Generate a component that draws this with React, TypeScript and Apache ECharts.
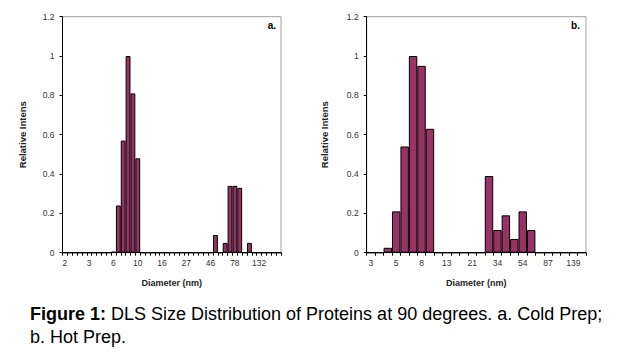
import React, { useEffect, useRef } from "react";
import * as echarts from "echarts";

// Panel a (Cold Prep): 45 size bins, tick labels every 5th bin
const aTickLabels = ["2", "3", "6", "10", "16", "27", "46", "78", "132"];
const aValues = [
  0, 0, 0, 0, 0, 0, 0, 0, 0, 0,
  0.005, 0.24, 0.57, 1.0, 0.81, 0.48, 0, 0, 0, 0,
  0, 0, 0, 0, 0, 0, 0, 0, 0, 0,
  0, 0.09, 0, 0.05, 0.34, 0.34, 0.33, 0, 0.05, 0,
  0, 0, 0, 0, 0,
];

// Panel b (Hot Prep): 26 size bins, tick labels every 3rd bin
const bTickLabels = ["3", "5", "8", "13", "21", "34", "54", "87", "139"];
const bValues = [
  0, 0, 0.025, 0.21, 0.54, 1.0, 0.95, 0.63, 0, 0,
  0, 0, 0, 0, 0.39, 0.115, 0.19, 0.07, 0.21, 0.115,
  0, 0, 0, 0, 0, 0,
];

const yTicks = { min: 0, max: 1.2, interval: 0.2 };

const FONT = "Liberation Sans, Arial, sans-serif";
const BAR = "#993366";

function xAxisFor(gridIndex: number, values: number[], labels: string[], step: number) {
  return {
    type: "category",
    gridIndex,
    data: values.map((_, i) => String(i)),
    boundaryGap: true,
    name: "Diameter (nm)",
    nameLocation: "middle",
    nameGap: 26,
    nameTextStyle: { fontFamily: FONT, fontSize: 9, fontWeight: "bold", color: "#222" },
    axisLine: { lineStyle: { color: "#000", width: 1 } },
    axisTick: { show: true, interval: 0, length: 3, lineStyle: { color: "#000" } },
    axisLabel: {
      interval: step - 1,
      margin: 6,
      fontFamily: FONT,
      fontSize: 8.5,
      color: "#333",
      formatter: (v: string) => {
        const i = Number(v);
        return i % step === 0 ? labels[i / step] ?? "" : "";
      },
    },
    splitLine: { show: false },
  };
}

function yAxisFor(gridIndex: number, gap: number) {
  return {
    type: "value",
    gridIndex,
    ...yTicks,
    name: "Relative Intens",
    nameLocation: "middle",
    nameRotate: 90,
    nameGap: gap,
    nameTextStyle: { fontFamily: FONT, fontSize: 9.5, fontWeight: "bold", color: "#222" },
    axisLine: { show: true, lineStyle: { color: "#000", width: 1 } },
    axisTick: { show: true, length: 3, lineStyle: { color: "#000" } },
    axisLabel: { margin: 8, fontFamily: FONT, fontSize: 8.5, color: "#333" },
    splitLine: { show: false },
  };
}

export default function App() {
  const ref = useRef<HTMLDivElement>(null);
  useEffect(() => {
    document.body.style.margin = "0";
    const chart = echarts.init(ref.current!, null, { renderer: "svg" });
    chart.setOption({
      animation: false,
      backgroundColor: "#fff",
      textStyle: { fontFamily: FONT },
      grid: [
        { left: 62.5, top: 16.7, width: 218.5, height: 236, show: true, borderColor: "#a0a0a0", borderWidth: 1, backgroundColor: "transparent" },
        { left: 366.7, top: 16.7, width: 219.3, height: 236, show: true, borderColor: "#a0a0a0", borderWidth: 1, backgroundColor: "transparent" },
      ],
      xAxis: [xAxisFor(0, aValues, aTickLabels, 5), xAxisFor(1, bValues, bTickLabels, 3)],
      yAxis: [yAxisFor(0, 35), yAxisFor(1, 37)],
      series: [
        {
          type: "bar",
          xAxisIndex: 0,
          yAxisIndex: 0,
          data: aValues,
          barCategoryGap: "0%",
          itemStyle: { color: BAR, borderColor: "#000", borderWidth: 1 },
        },
        {
          type: "bar",
          xAxisIndex: 1,
          yAxisIndex: 1,
          data: bValues,
          barCategoryGap: "0%",
          itemStyle: { color: BAR, borderColor: "#000", borderWidth: 1 },
        },
      ],
      graphic: [
        {
          type: "text",
          x: 276,
          y: 25,
          style: { text: "a.", fontFamily: FONT, fontSize: 10, fontWeight: "bold", fill: "#000", align: "right", verticalAlign: "middle" },
        },
        {
          type: "text",
          x: 580,
          y: 25,
          style: { text: "b.", fontFamily: FONT, fontSize: 10, fontWeight: "bold", fill: "#000", align: "right", verticalAlign: "middle" },
        },
        {
          type: "text",
          x: 30,
          y: 314,
          style: {
            text: "{b|Figure 1:} DLS Size Distribution of Proteins at 90 degrees. a. Cold Prep;",
            fontFamily: FONT,
            fontSize: 18,
            fill: "#000",
            verticalAlign: "middle",
            rich: { b: { fontFamily: FONT, fontSize: 18, fontWeight: "bold", fill: "#000" } },
          },
        },
        {
          type: "text",
          x: 30,
          y: 337,
          style: { text: "b. Hot Prep.", fontFamily: FONT, fontSize: 18, fill: "#000", verticalAlign: "middle" },
        },
      ],
    });
    return () => chart.dispose();
  }, []);
  return <div ref={ref} style={{ width: 620, height: 359 }} />;
}
